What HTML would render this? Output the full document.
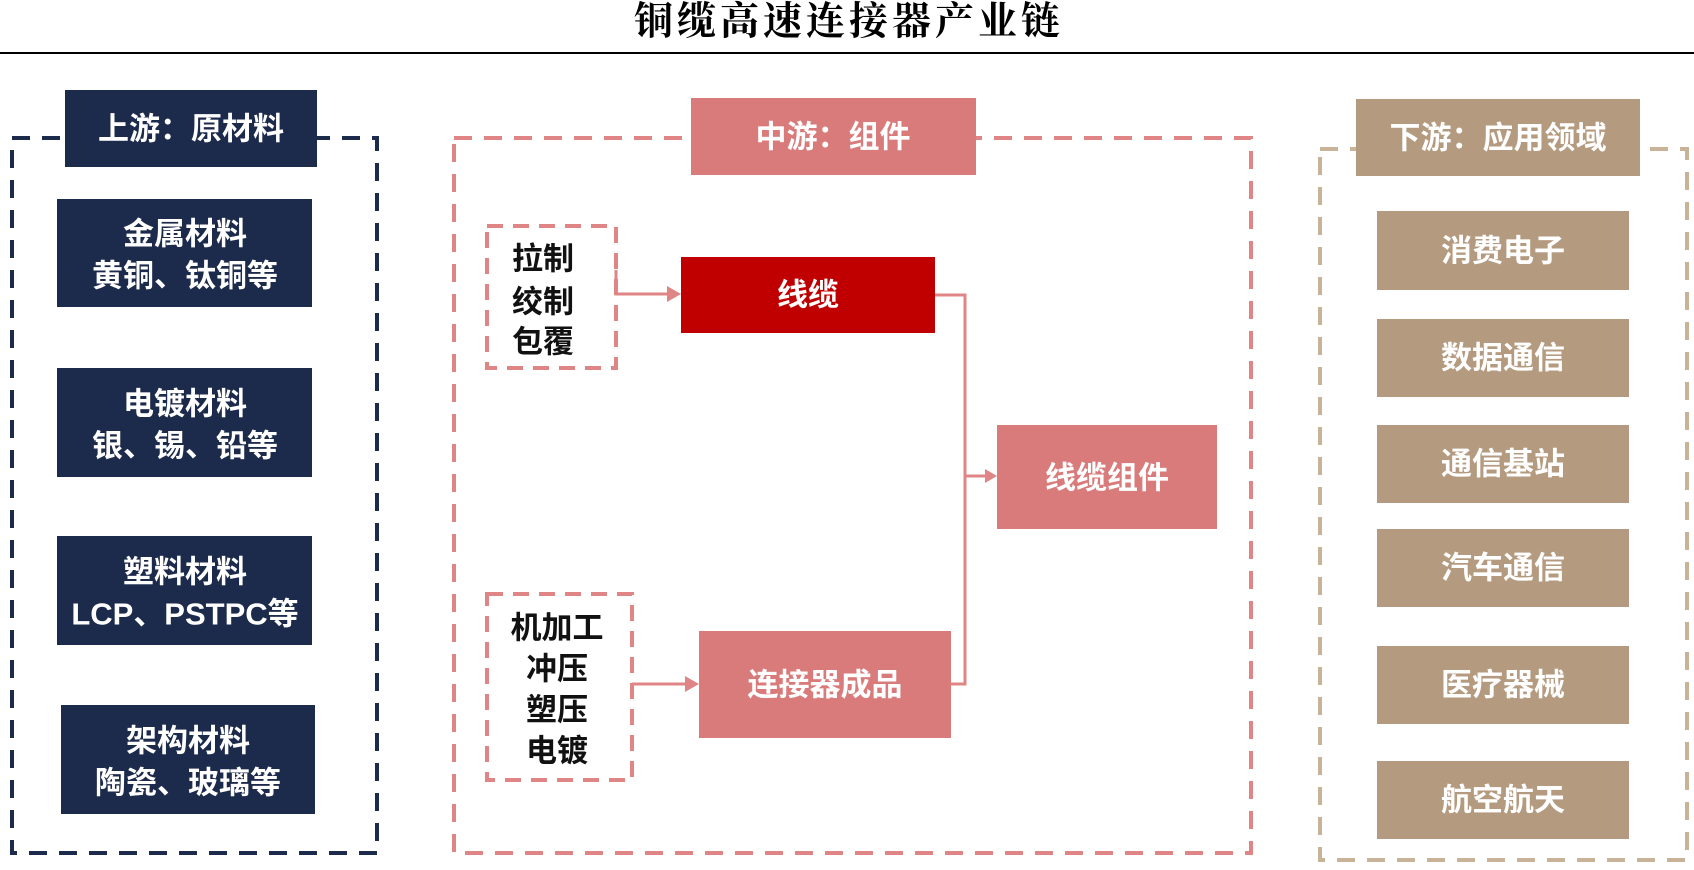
<!DOCTYPE html>
<html><head><meta charset="utf-8"><style>
html,body{margin:0;padding:0;background:#fff;}
svg{display:block}
text{font-family:"Liberation Sans","Noto Sans CJK SC",sans-serif;font-weight:bold;text-anchor:middle;dominant-baseline:central}
</style></head><body>
<svg width="1694" height="870" viewBox="0 0 1694 870" xmlns="http://www.w3.org/2000/svg">
<text x="849" y="22" font-size="39" fill="#000" letter-spacing="4" style='font-family:"Liberation Serif","Noto Serif CJK SC",serif;font-weight:bold'>铜缆高速连接器产业链</text>
<line x1="0" y1="53" x2="1694" y2="53" stroke="#000" stroke-width="2"/>

<!-- left -->
<rect x="12" y="138" width="365" height="715" fill="none" stroke="#1c2a4b" stroke-width="4" stroke-dasharray="18,12"/>
<rect x="65" y="90" width="252" height="77" fill="#1c2a4b"/>
<text x="191" y="129" font-size="31" fill="#fff">上游：原材料</text>
<g fill="#1c2a4b">
<rect x="57" y="199" width="255" height="108"/>
<rect x="57" y="368" width="255" height="109"/>
<rect x="57" y="536" width="255" height="109"/>
<rect x="61" y="705" width="254" height="109"/>
</g>
<g fill="#fff" font-size="31">
<text x="185" y="234">金属材料</text><text x="185" y="276">黄铜、钛铜等</text>
<text x="185" y="404">电镀材料</text><text x="185" y="446">银、锡、铅等</text>
<text x="185" y="572">塑料材料</text><text x="185" y="614">LCP、PSTPC等</text>
<text x="188" y="741">架构材料</text><text x="188" y="783">陶瓷、玻璃等</text>
</g>

<!-- middle -->
<rect x="454" y="138" width="797" height="715" fill="none" stroke="#e08585" stroke-width="4" stroke-dasharray="18,12"/>
<rect x="691" y="98" width="285" height="77" fill="#d97b7b"/>
<text x="833" y="137" font-size="31" fill="#fff">中游：组件</text>
<rect x="487" y="226" width="129" height="142" fill="none" stroke="#e08585" stroke-width="4" stroke-dasharray="16,10"/>
<g font-size="31" fill="#111">
<text x="543" y="259">拉制</text><text x="543" y="302">绞制</text><text x="543" y="342">包覆</text>
<text x="557" y="628">机加工</text><text x="557" y="669">冲压</text><text x="557" y="710">塑压</text><text x="557" y="751">电镀</text>
</g>
<rect x="487" y="594" width="145" height="186" fill="none" stroke="#e08585" stroke-width="4" stroke-dasharray="16,10"/>
<rect x="681" y="257" width="254" height="76" fill="#c00000"/>
<text x="808" y="295" font-size="31" fill="#fff">线缆</text>
<rect x="699" y="631" width="252" height="107" fill="#d97b7b"/>
<text x="825" y="685" font-size="31" fill="#fff">连接器成品</text>
<rect x="997" y="425" width="220" height="104" fill="#d97b7b"/>
<text x="1107" y="478" font-size="31" fill="#fff">线缆组件</text>
<g stroke="#e08585" stroke-width="3" fill="none">
<polyline points="616,270 616,294 670,294"/>
<polyline points="632,684 688,684"/>
<polyline points="935,295 965,295 965,684 951,684"/>
<polyline points="965,476 987,476"/>
</g>
<g fill="#e08585">
<polygon points="681,294 667,286 667,302"/>
<polygon points="699,684 685,676 685,692"/>
<polygon points="997,476 985,469 985,483"/>
</g>

<!-- right -->
<rect x="1320" y="149" width="367" height="711" fill="none" stroke="#c9b398" stroke-width="4" stroke-dasharray="18,12"/>
<rect x="1356" y="99" width="284" height="77" fill="#b49b7f"/>
<text x="1498" y="138" font-size="31" fill="#fff">下游：应用领域</text>
<g fill="#b49b7f">
<rect x="1377" y="211" width="252" height="79"/>
<rect x="1377" y="319" width="252" height="78"/>
<rect x="1377" y="425" width="252" height="78"/>
<rect x="1377" y="529" width="252" height="78"/>
<rect x="1377" y="646" width="252" height="78"/>
<rect x="1377" y="761" width="252" height="78"/>
</g>
<g fill="#fff" font-size="31">
<text x="1503" y="251">消费电子</text>
<text x="1503" y="358">数据通信</text>
<text x="1503" y="464">通信基站</text>
<text x="1503" y="568">汽车通信</text>
<text x="1503" y="685">医疗器械</text>
<text x="1503" y="800">航空航天</text>
</g>
</svg>
</body></html>
